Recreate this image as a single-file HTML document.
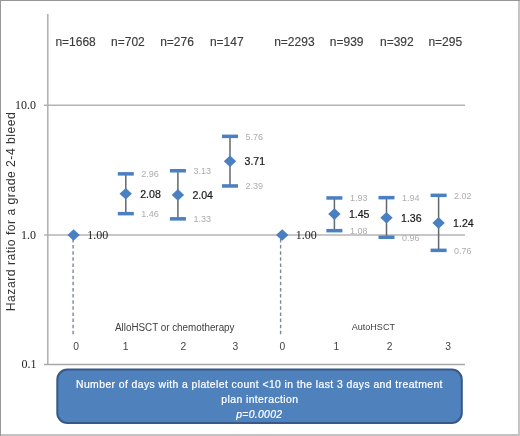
<!DOCTYPE html>
<html><head><meta charset="utf-8"><style>
html,body{margin:0;padding:0;background:#fff;}
#c{position:relative;width:520px;height:436px;overflow:hidden;background:#fff;}
svg{position:absolute;left:0;top:0;will-change:transform;filter:blur(0.3px);}
text{font-family:"Liberation Sans",sans-serif;}
.ser{font-family:"Liberation Serif",serif;font-size:12px;fill:#222;}
.lab{font-size:10.6px;fill:#1a1a1a;stroke:#1a1a1a;stroke-width:0.2px;}
.ci{font-size:9px;fill:#adadad;}
.n{font-size:12px;fill:#3c3c3c;stroke:#3c3c3c;stroke-width:0.15px;}
.xl{font-size:10.3px;fill:#454545;}
.grp{font-size:10px;fill:#404040;}
.yt{font-size:12.2px;fill:#333;}
.bx{font-size:10.4px;fill:#fff;stroke:#fff;stroke-width:0.22px;}
</style></head><body><div id="c">
<svg width="520" height="436" viewBox="0 0 520 436">
<rect x="0" y="0" width="520" height="436" fill="#fff"/>
<rect x="518" y="0" width="2" height="436" fill="#c6c6c6"/>
<rect x="0" y="434" width="520" height="2" fill="#c2c2c2"/>
<rect x="0" y="0" width="1" height="436" fill="#989898"/>
<rect x="0" y="0" width="520" height="1" fill="#969696"/>
<line x1="44" y1="105.3" x2="465" y2="105.3" stroke="#b4b4b4" stroke-width="1.5"/>
<line x1="44" y1="235" x2="465" y2="235" stroke="#b4b4b4" stroke-width="1.5"/>
<line x1="44" y1="364.5" x2="465" y2="364.5" stroke="#a8a8a8" stroke-width="1.5"/>
<line x1="47.8" y1="14" x2="47.8" y2="365" stroke="#afafaf" stroke-width="1.5"/>
<text x="36" y="109.3" text-anchor="end" class="ser">10.0</text>
<text x="36" y="238.9" text-anchor="end" class="ser">1.0</text>
<text x="36.4" y="367.7" text-anchor="end" class="ser">0.1</text>
<line x1="73.1" y1="239.0" x2="73.1" y2="334.6" stroke="#7f8898" stroke-width="1.4" stroke-dasharray="3.5 2.62"/>
<line x1="280.6" y1="239.0" x2="280.6" y2="334.6" stroke="#7f8898" stroke-width="1.4" stroke-dasharray="3.5 2.62"/>
<polygon points="67.4,235.0 73.6,229.2 79.8,235.0 73.6,240.8" fill="#4a7fc1"/>
<text x="87.2" y="238.9" class="ser">1.00</text>
<line x1="125.8" y1="173.9" x2="125.8" y2="213.7" stroke="#62666e" stroke-width="1.5"/>
<rect x="117.8" y="211.9" width="16" height="3.5" fill="#4a7fc1"/>
<rect x="117.8" y="172.1" width="16" height="3.5" fill="#4a7fc1"/>
<polygon points="119.5,193.8 125.8,188.0 131.9,193.8 125.8,199.6" fill="#4a7fc1"/>
<text x="140.2" y="197.6" class="lab">2.08</text>
<text x="141.2" y="216.9" class="ci">1.46</text>
<text x="141.2" y="177.1" class="ci">2.96</text>
<line x1="177.9" y1="170.8" x2="177.9" y2="218.9" stroke="#62666e" stroke-width="1.5"/>
<rect x="169.9" y="217.1" width="16" height="3.5" fill="#4a7fc1"/>
<rect x="169.9" y="169.0" width="16" height="3.5" fill="#4a7fc1"/>
<polygon points="171.7,194.9 177.9,189.1 184.1,194.9 177.9,200.7" fill="#4a7fc1"/>
<text x="192.4" y="198.7" class="lab">2.04</text>
<text x="193.4" y="222.1" class="ci">1.33</text>
<text x="193.4" y="174.0" class="ci">3.13</text>
<line x1="230.0" y1="136.4" x2="230.0" y2="186.0" stroke="#62666e" stroke-width="1.5"/>
<rect x="222.0" y="184.2" width="16" height="3.5" fill="#4a7fc1"/>
<rect x="222.0" y="134.6" width="16" height="3.5" fill="#4a7fc1"/>
<polygon points="223.8,161.2 230.0,155.4 236.2,161.2 230.0,167.0" fill="#4a7fc1"/>
<text x="244.5" y="165.0" class="lab">3.71</text>
<text x="245.5" y="189.2" class="ci">2.39</text>
<text x="245.5" y="139.6" class="ci">5.76</text>
<polygon points="276.0,235.0 282.2,229.2 288.4,235.0 282.2,240.8" fill="#4a7fc1"/>
<text x="295.8" y="238.9" class="ser">1.00</text>
<line x1="334.4" y1="198.0" x2="334.4" y2="230.7" stroke="#62666e" stroke-width="1.5"/>
<rect x="326.4" y="228.9" width="16" height="3.5" fill="#4a7fc1"/>
<rect x="326.4" y="196.2" width="16" height="3.5" fill="#4a7fc1"/>
<polygon points="328.2,214.1 334.4,208.3 340.6,214.1 334.4,219.9" fill="#4a7fc1"/>
<text x="348.9" y="217.9" class="lab">1.45</text>
<text x="349.9" y="233.9" class="ci">1.08</text>
<text x="349.9" y="201.2" class="ci">1.93</text>
<line x1="386.5" y1="197.7" x2="386.5" y2="237.3" stroke="#62666e" stroke-width="1.5"/>
<rect x="378.5" y="235.5" width="16" height="3.5" fill="#4a7fc1"/>
<rect x="378.5" y="195.9" width="16" height="3.5" fill="#4a7fc1"/>
<polygon points="380.3,217.7 386.5,211.9 392.7,217.7 386.5,223.5" fill="#4a7fc1"/>
<text x="401.0" y="221.5" class="lab">1.36</text>
<text x="402.0" y="240.5" class="ci">0.96</text>
<text x="402.0" y="200.9" class="ci">1.94</text>
<line x1="438.6" y1="195.4" x2="438.6" y2="250.4" stroke="#62666e" stroke-width="1.5"/>
<rect x="430.6" y="248.6" width="16" height="3.5" fill="#4a7fc1"/>
<rect x="430.6" y="193.6" width="16" height="3.5" fill="#4a7fc1"/>
<polygon points="432.4,222.9 438.6,217.1 444.8,222.9 438.6,228.7" fill="#4a7fc1"/>
<text x="453.1" y="226.7" class="lab">1.24</text>
<text x="454.1" y="253.6" class="ci">0.76</text>
<text x="454.1" y="198.6" class="ci">2.02</text>
<text x="55.4" y="46.4" class="n">n=1668</text>
<text x="111.1" y="46.4" class="n">n=702</text>
<text x="160.2" y="46.4" class="n">n=276</text>
<text x="209.9" y="46.4" class="n">n=147</text>
<text x="274.2" y="46.4" class="n">n=2293</text>
<text x="329.8" y="46.4" class="n">n=939</text>
<text x="380.0" y="46.4" class="n">n=392</text>
<text x="428.4" y="46.4" class="n">n=295</text>
<text x="76.0" y="349.7" text-anchor="middle" class="xl">0</text>
<text x="125.6" y="349.7" text-anchor="middle" class="xl">1</text>
<text x="183.4" y="349.7" text-anchor="middle" class="xl">2</text>
<text x="235.3" y="349.7" text-anchor="middle" class="xl">3</text>
<text x="282.3" y="349.7" text-anchor="middle" class="xl">0</text>
<text x="336.3" y="349.7" text-anchor="middle" class="xl">1</text>
<text x="389.7" y="349.7" text-anchor="middle" class="xl">2</text>
<text x="448.0" y="349.7" text-anchor="middle" class="xl">3</text>
<text x="115" y="331" class="grp" textLength="119.5" lengthAdjust="spacingAndGlyphs">AlloHSCT or chemotherapy</text>
<text x="351.7" y="330.4" class="grp" style="font-size:9.7px" textLength="43.3" lengthAdjust="spacingAndGlyphs">AutoHSCT</text>
<text transform="translate(15.4,311.2) rotate(-90)" class="yt" textLength="199" lengthAdjust="spacing">Hazard ratio for a grade 2-4 bleed</text>
<rect x="57.3" y="369.5" width="404.5" height="53.4" rx="10" ry="10" fill="#4f81bd" stroke="#36598a" stroke-width="2"/>
<text x="76" y="388" class="bx" textLength="366.5" lengthAdjust="spacing">Number of days with a platelet count &lt;10 in the last 3 days and treatment</text>
<text x="221.3" y="403.3" class="bx" textLength="76.7" lengthAdjust="spacing">plan interaction</text>
<text x="236.3" y="418.3" class="bx" font-style="italic" textLength="45.7" lengthAdjust="spacing">p=0.0002</text>
</svg></div></body></html>
